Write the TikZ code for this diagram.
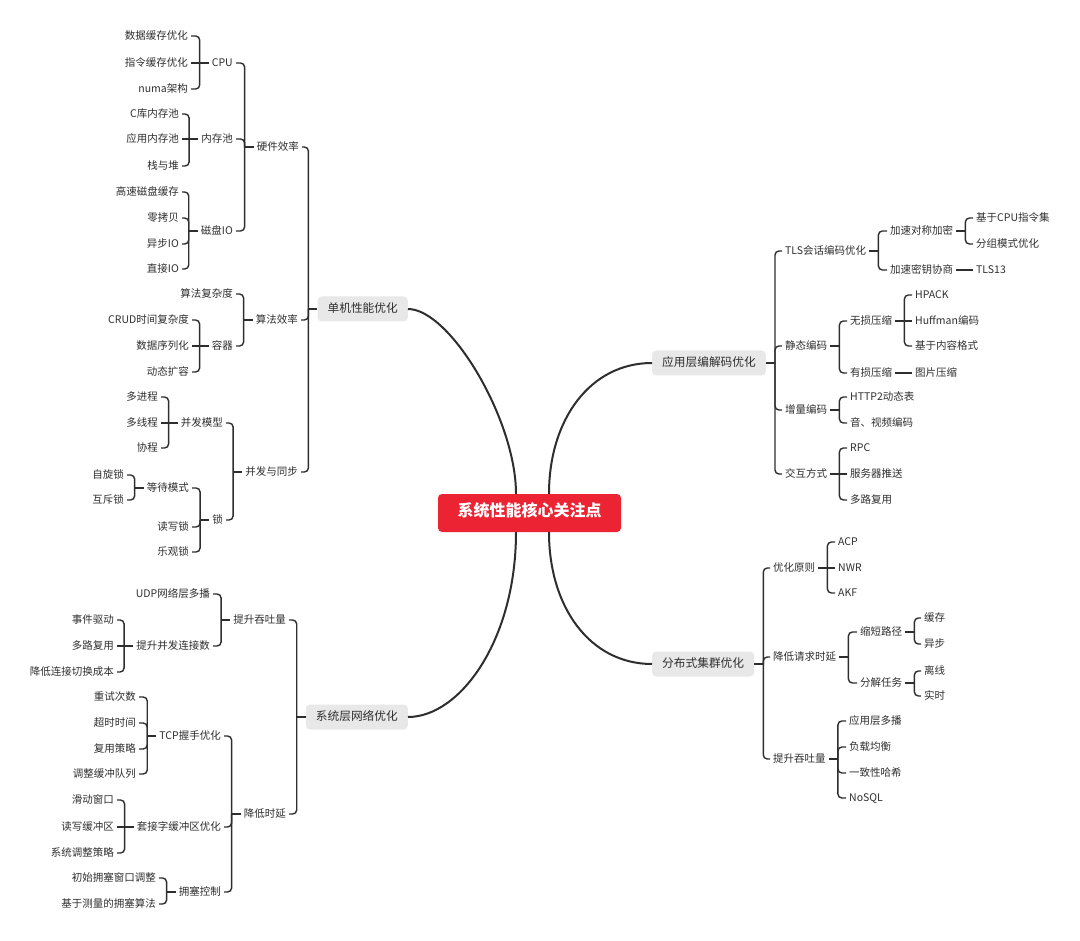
\documentclass[tikz,border=0pt]{standalone}
\usepackage{fontspec}
\setmainfont{Noto Sans CJK SC}
\definecolor{ink}{HTML}{2E2E2E}
\definecolor{rootred}{HTML}{EC2332}
\definecolor{topicgrey}{HTML}{E8E8E8}

% children on the left: elbow from each child into a bar, then into the parent
\newcommand{\lfork}[2]{%
  \foreach \kid in {#2} \draw[link] (\kid.east) -| ([xshift=-9pt]#1.west);
  \draw[link] ([xshift=-9pt]#1.west) -- (#1.west);}
% children on the right
\newcommand{\rfork}[2]{%
  \foreach \kid in {#2} \draw[link] (\kid.west) -| ([xshift=9pt]#1.east);
  \draw[link] ([xshift=9pt]#1.east) -- (#1.east);}

\begin{document}
\begin{tikzpicture}[x=1pt, y=-1pt,
    every node/.style={font=\fontsize{10.5}{12}\selectfont, text=ink,
        inner xsep=3pt, inner ysep=2pt, text height=0.85em, text depth=0.09em},
    lnode/.style={anchor=east},
    rnode/.style={anchor=west},
    topic/.style={fill=topicgrey, rounded corners=4pt,
        font=\fontsize{11.7}{14}\selectfont, minimum height=25pt, inner xsep=10pt},
    root/.style={fill=rootred, rounded corners=4pt, text=white,
        font=\fontsize{16}{18}\selectfont\bfseries,
        minimum width=183pt, minimum height=38pt},
    link/.style={draw=ink, line width=1.4pt, rounded corners=4pt},
    trunk/.style={draw=ink, line width=2pt}]
\useasboundingbox (0,0) rectangle (1080,941);

% centre and the four topics
\node[root] (core) at (529.5,513) {系统性能核心关注点};
\node[topic, anchor=east] (single) at (408,309) {单机性能优化};
\node[topic, anchor=east] (net) at (408,717) {系统层网络优化};
\node[topic, anchor=west] (codec) at (652,363) {应用层编解码优化};
\node[topic, anchor=west] (dist) at (652,664) {分布式集群优化};

\draw[trunk] ([xshift=-13.5pt]core.north) .. controls +(0,-74) and +(42,0) .. (single.east);
\draw[trunk] ([xshift=19.5pt]core.north) .. controls +(0,-74) and +(-62,0) .. (codec.west);
\draw[trunk] ([xshift=-13.5pt]core.south) .. controls +(0,108) and +(52,0) .. (net.east);
\draw[trunk] ([xshift=19.5pt]core.south) .. controls +(0,75) and +(-62,0) .. (dist.west);

% 单机性能优化
\node[lnode] (cpu1) at (191,36) {数据缓存优化};
\node[lnode] (cpu2) at (191,63) {指令缓存优化};
\node[lnode] (cpu3) at (191,89) {numa架构};
\node[lnode] (pool1) at (182,114) {C库内存池};
\node[lnode] (pool2) at (182,139) {应用内存池};
\node[lnode] (pool3) at (182,166) {栈与堆};
\node[lnode] (io1) at (182,192) {高速磁盘缓存};
\node[lnode] (io2) at (182,218) {零拷贝};
\node[lnode] (io3) at (182,244) {异步IO};
\node[lnode] (io4) at (182,269) {直接IO};
\node[lnode] (cpu) at (236,63) {CPU};
\node[lnode] (pool) at (236,139) {内存池};
\node[lnode] (disk) at (236,231) {磁盘IO};
\node[lnode] (hw) at (302,147) {硬件效率};

\node[lnode] (algo1) at (236,294) {算法复杂度};
\node[lnode] (box) at (236,346) {容器};
\node[lnode] (box1) at (192,320) {CRUD时间复杂度};
\node[lnode] (box2) at (192,346) {数据序列化};
\node[lnode] (box3) at (192,372) {动态扩容};
\node[lnode] (algo) at (301,320) {算法效率};

\node[lnode] (proc1) at (161,397) {多进程};
\node[lnode] (proc2) at (161,423) {多线程};
\node[lnode] (proc3) at (161,448) {协程};
\node[lnode] (model) at (226,423) {并发模型};
\node[lnode] (wait1) at (127,475) {自旋锁};
\node[lnode] (wait2) at (127,500) {互斥锁};
\node[lnode] (wait) at (192,488) {等待模式};
\node[lnode] (lock2) at (192,527) {读写锁};
\node[lnode] (lock3) at (192,552) {乐观锁};
\node[lnode] (lock) at (226,520) {锁};
\node[lnode] (conc) at (301,472) {并发与同步};

\lfork{cpu}{cpu1,cpu3}
\lfork{pool}{pool1,pool3}
\lfork{disk}{io1,io2,io3,io4}
\lfork{hw}{cpu,pool,disk}
\lfork{algo}{algo1,box}
\lfork{box}{box1,box3}
\lfork{model}{proc1,proc3}
\lfork{wait}{wait1,wait2}
\lfork{lock}{wait,lock2,lock3}
\lfork{conc}{model,lock}
\lfork{single}{hw,algo,conc}

% 系统层网络优化
\node[lnode] (udp) at (213,594) {UDP网络层多播};
\node[lnode] (connect) at (213,646) {提升并发连接数};
\node[lnode] (conn1) at (117,620) {事件驱动};
\node[lnode] (conn2) at (117,646) {多路复用};
\node[lnode] (conn3) at (117,672) {降低连接切换成本};
\node[lnode] (thru) at (289,620) {提升吞吐量};

\node[lnode] (tcp1) at (139,697) {重试次数};
\node[lnode] (tcp2) at (139,723) {超时时间};
\node[lnode] (tcp3) at (139,749) {复用策略};
\node[lnode] (tcp4) at (139,774) {调整缓冲队列};
\node[lnode] (tcp) at (224,736) {TCP握手优化};
\node[lnode] (sock1) at (117,800) {滑动窗口};
\node[lnode] (sock2) at (117,827) {读写缓冲区};
\node[lnode] (sock3) at (117,853) {系统调整策略};
\node[lnode] (sock) at (224,827) {套接字缓冲区优化};
\node[lnode] (cong1) at (159,878) {初始拥塞窗口调整};
\node[lnode] (cong2) at (159,904) {基于测量的拥塞算法};
\node[lnode] (cong) at (224,892) {拥塞控制};
\node[lnode] (lat) at (289,814) {降低时延};

\lfork{connect}{conn1,conn3}
\lfork{thru}{udp,connect}
\lfork{tcp}{tcp1,tcp2,tcp3,tcp4}
\lfork{sock}{sock1,sock3}
\lfork{cong}{cong1,cong2}
\lfork{lat}{tcp,sock,cong}
\lfork{net}{thru,lat}

% children level with their parent: plain straight lines
\foreach \up/\kid in {cpu/cpu2, pool/pool2, box/box2, model/proc2, connect/conn2, sock/sock2}
  \draw[link] (\kid.east) -- ([xshift=-9pt]\up.west);

% 应用层编解码优化
\node[rnode] (tls) at (782,251) {TLS会话编码优化};
\node[rnode] (static) at (782,346) {静态编码};
\node[rnode] (incr) at (782,410) {增量编码};
\node[rnode] (inter) at (782,474) {交互方式};
\node[rnode] (sym) at (887,231) {加速对称加密};
\node[rnode] (key) at (887,270) {加速密钥协商};
\node[rnode] (sym1) at (973,218) {基于CPU指令集};
\node[rnode] (sym2) at (973,244) {分组模式优化};
\node[rnode] (key1) at (973,270) {TLS13};
\node[rnode] (lossless) at (847,321) {无损压缩};
\node[rnode] (lossy) at (847,373) {有损压缩};
\node[rnode] (hpack) at (912,295) {HPACK};
\node[rnode] (huff) at (912,321) {Huffman编码};
\node[rnode] (fmt) at (912,346) {基于内容格式};
\node[rnode] (img) at (912,373) {图片压缩};
\node[rnode] (incr1) at (847,397) {HTTP2动态表};
\node[rnode] (incr2) at (847,423) {音、视频编码};
\node[rnode] (rpc) at (847,448) {RPC};
\node[rnode] (push) at (847,474) {服务器推送};
\node[rnode] (mux) at (847,500) {多路复用};

\rfork{sym}{sym1,sym2}
\rfork{tls}{sym,key}
\rfork{lossless}{hpack,fmt}
\rfork{static}{lossless,lossy}
\rfork{incr}{incr1,incr2}
\rfork{inter}{rpc,mux}
\rfork{codec}{tls,static,incr,inter}

% 分布式集群优化
\node[rnode] (rule) at (770,568) {优化原则};
\node[rnode] (req) at (770,657) {降低请求时延};
\node[rnode] (dthru) at (770,759) {提升吞吐量};
\node[rnode] (acp) at (835,542) {ACP};
\node[rnode] (nwr) at (835,568) {NWR};
\node[rnode] (akf) at (835,593) {AKF};
\node[rnode] (short) at (857,632) {缩短路径};
\node[rnode] (split) at (857,683) {分解任务};
\node[rnode] (cache) at (921,618) {缓存};
\node[rnode] (async) at (921,644) {异步};
\node[rnode] (offline) at (921,671) {离线};
\node[rnode] (online) at (921,696) {实时};
\node[rnode] (mcast) at (846,721) {应用层多播};
\node[rnode] (lb) at (846,747) {负载均衡};
\node[rnode] (hash) at (846,773) {一致性哈希};
\node[rnode] (nosql) at (846,798) {NoSQL};

\rfork{rule}{acp,akf}
\rfork{short}{cache,async}
\rfork{split}{offline,online}
\rfork{req}{short,split}
\rfork{dthru}{mcast,lb,hash,nosql}
\rfork{dist}{rule,req,dthru}

% children level with their parent (or an only child): straight lines
\foreach \up/\kid in {key/key1, lossless/huff, lossy/img, inter/push, rule/nwr}
  \draw[link] (\kid.west) -- (\up.east);
\end{tikzpicture}
\end{document}
